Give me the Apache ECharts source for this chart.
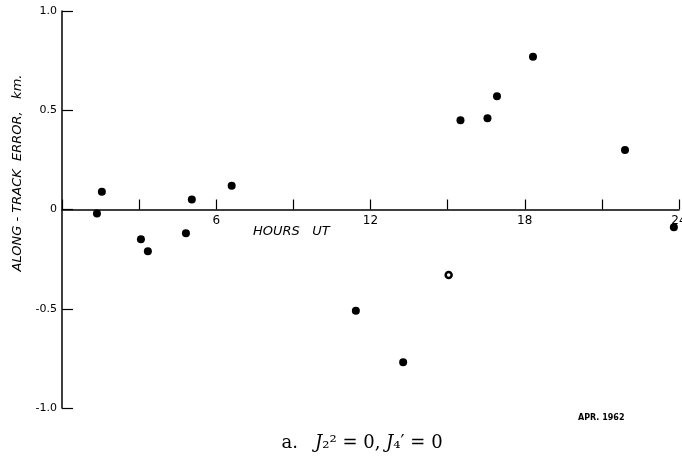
<!DOCTYPE html>
<html>
<head>
<meta charset="utf-8">
<script src="https://cdn.jsdelivr.net/npm/echarts@6/dist/echarts.min.js"></script>
<style>
  html, body { margin: 0; padding: 0; background: #fff; }
  #chart { width: 682px; height: 462px; }
</style>
</head>
<body>
<div id="chart"></div>
<script>
// hours UT and along-track error (km)
const hours = [1.36, 1.55, 3.07, 3.34, 4.82, 5.05, 6.6, 11.43, 13.27, 15.5, 16.55, 16.92, 18.32, 21.9, 23.8];
const errors = [-0.02, 0.09, -0.15, -0.21, -0.12, 0.05, 0.12, -0.51, -0.77, 0.45, 0.46, 0.57, 0.77, 0.3, -0.09];
// the one open (ringed) point
const openHours = [15.04];
const openErrors = [-0.33];
const xLabelTicks = [6, 12, 18, 24];
const yTickLabels = ["-1.0", "-0.5", "0", "0.5", "1.0"];

const filled = hours.map((h, i) => [h, errors[i]]);
const open = openHours.map((h, i) => [h, openErrors[i]]);

const gridTop = 11, gridBottom = 54;
const gridH = 462 - gridTop - gridBottom;

let myChart = echarts.init(document.getElementById("chart"));
myChart.setOption({
  animation: false,
  grid: { left: 62, right: 3, top: gridTop, bottom: gridBottom, outerBoundsMode: "none", containLabel: false },
  xAxis: {
    type: "value",
    min: 0,
    max: 24,
    interval: 3,
    // sit the axis (line + labels) on y = 0
    offset: -gridH / 2,
    axisLine: { onZero: false, lineStyle: { color: "#000", width: 1.5 } },
    axisTick: { inside: true, length: 10, lineStyle: { color: "#000", width: 1.2 } },
    splitLine: { show: false },
    axisLabel: {
      color: "#000",
      fontSize: 12,
      fontFamily: "DejaVu Sans",
      margin: 5,
      showMaxLabel: true,
      formatter: (v) => (xLabelTicks.includes(v) ? String(v) : ""),
    },
  },
  yAxis: {
    type: "value",
    min: -1,
    max: 1,
    interval: 0.5,
    axisLine: { show: true, lineStyle: { color: "#000", width: 1.5 } },
    axisTick: { show: true, inside: true, length: 11, lineStyle: { color: "#000", width: 1.2 } },
    splitLine: { show: false },
    axisLabel: {
      color: "#000",
      fontSize: 11,
      fontFamily: "DejaVu Sans",
      margin: 5,
      formatter: (v) => yTickLabels[Math.round((v + 1) * 2)],
    },
  },
  series: [
    {
      name: "error",
      type: "scatter",
      data: filled,
      symbol: "circle",
      symbolSize: 8,
      itemStyle: { color: "#000", opacity: 1 },
    },
    {
      name: "open",
      type: "scatter",
      data: open,
      symbol: "circle",
      symbolSize: 6,
      itemStyle: { color: "#fff", borderColor: "#000", borderWidth: 2.5, opacity: 1 },
    },
  ],
  graphic: [
    {
      // y axis title
      type: "text",
      x: 18,
      y: 173,
      rotation: Math.PI / 2,
      style: {
        text: "ALONG - TRACK  ERROR,   km.",
        fontSize: 13,
        fontStyle: "italic",
        fontFamily: "DejaVu Sans",
        fill: "#000",
        align: "center",
        verticalAlign: "middle",
      },
    },
    {
      type: "text",
      x: 253,
      y: 232,
      style: {
        text: "HOURS   UT",
        fontSize: 13,
        fontStyle: "italic",
        fontFamily: "DejaVu Sans",
        fill: "#000",
        align: "left",
        verticalAlign: "middle",
      },
    },
    {
      type: "text",
      x: 578,
      y: 418,
      style: {
        text: "APR. 1962",
        fontSize: 8,
        fontWeight: "bold",
        fontFamily: "DejaVu Sans",
        fill: "#000",
        align: "left",
        verticalAlign: "middle",
      },
    },
    {
      // caption
      type: "text",
      x: 362,
      y: 443,
      style: {
        text: "a.   {i|J}₂² = 0, {i|J}₄′ = 0",
        fontSize: 18,
        fontFamily: "DejaVu Serif",
        fill: "#000",
        align: "center",
        verticalAlign: "middle",
        rich: {
          i: { fontStyle: "italic", fontSize: 18, fontFamily: "DejaVu Serif" },
        },
      },
    },
  ],
});
</script>
</body>
</html>
